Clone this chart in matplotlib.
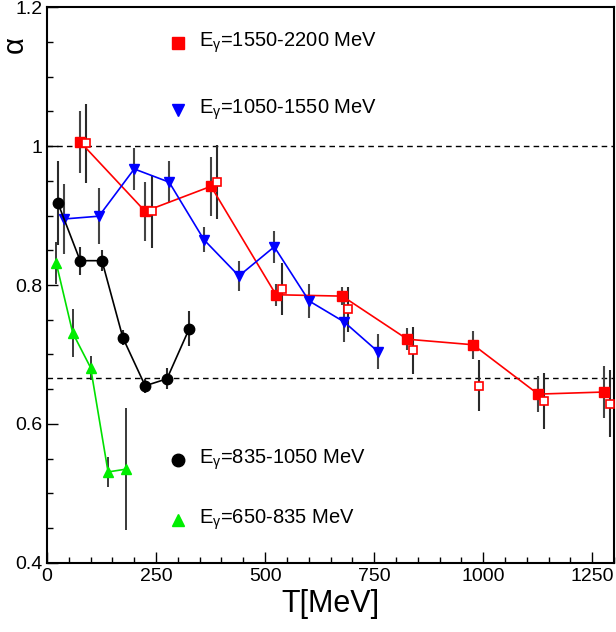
import matplotlib.pyplot as plt
from matplotlib.ticker import MultipleLocator
import numpy as np

plt.rcParams['font.family'] = ['Liberation Sans', 'DejaVu Sans']
plt.rcParams['mathtext.fontset'] = 'custom'
plt.rcParams['mathtext.rm'] = 'Liberation Sans'
plt.rcParams['mathtext.it'] = 'Liberation Sans:italic'

# E_gamma = 1550-2200 MeV, filled (connected) and open points
t_red = [76, 225, 376, 525, 677, 826, 977, 1126, 1277]
a_red = [1.006, 0.906, 0.942, 0.786, 0.784, 0.722, 0.714, 0.643, 0.646]
e_red = [0.045, 0.042, 0.042, 0.016, 0.013, 0.016, 0.020, 0.026, 0.037]
t_red_open = [89, 241, 390, 539, 690, 840, 991, 1140, 1291]
a_red_open = [1.004, 0.906, 0.948, 0.794, 0.765, 0.706, 0.655, 0.633, 0.629]
e_red_open = [0.057, 0.053, 0.053, 0.037, 0.032, 0.034, 0.037, 0.040, 0.048]

# E_gamma = 1050-1550 MeV
t_blue = [39, 119, 200, 280, 360, 440, 521, 601, 681, 759]
a_blue = [0.895, 0.899, 0.967, 0.948, 0.865, 0.813, 0.855, 0.777, 0.747, 0.704]
e_blue = [0.05, 0.04, 0.03, 0.03, 0.018, 0.021, 0.023, 0.024, 0.029, 0.025]

# E_gamma = 835-1050 MeV
t_black = [25, 76, 126, 174, 225, 275, 326]
a_black = [0.918, 0.835, 0.835, 0.724, 0.655, 0.665, 0.737]
e_black = [0.06, 0.02, 0.015, 0.011, 0.010, 0.015, 0.025]

# E_gamma = 650-835 MeV
t_green = [21, 59, 100, 140, 181]
a_green = [0.832, 0.731, 0.681, 0.531, 0.535]
e_green = [0.03, 0.035, 0.017, 0.022, 0.088]

ref_lines = [1.0, 2 / 3]

fig = plt.figure(figsize=(6.16, 6.32), dpi=100)
ax = fig.add_axes([0.0763, 0.1092, 0.9205, 0.8797])

ecol = '#2a2a2a'
ax.errorbar(t_red_open, a_red_open, yerr=e_red_open, fmt='none', ecolor=ecol, elinewidth=1.5, zorder=2)
ax.errorbar(t_red, a_red, yerr=e_red, fmt='none', ecolor='#444444', elinewidth=1.5, zorder=2)
ax.errorbar(t_blue, a_blue, yerr=e_blue, fmt='none', ecolor='#444444', elinewidth=1.5, zorder=2)
ax.errorbar(t_black, a_black, yerr=e_black, fmt='none', ecolor=ecol, elinewidth=1.5, zorder=2)
ax.errorbar(t_green, a_green, yerr=e_green, fmt='none', ecolor=ecol, elinewidth=1.3, zorder=2)

ax.plot(t_red, a_red, color='red', lw=1.2, marker='s', ms=7.5, mfc='red', mec='red', zorder=4)
ax.plot(t_red_open, a_red_open, ls='none', marker='s', ms=5.5, mfc='white', mec='red', mew=1.2, zorder=4)
ax.plot(t_blue, a_blue, color='blue', lw=1.2, marker='v', ms=7.5, mfc='blue', mec='blue', zorder=4)
ax.plot(t_black, a_black, color='black', lw=1.2, marker='o', ms=7.5, zorder=4)
ax.plot(t_green, a_green, color='#00e000', lw=1.2, marker='^', ms=7.5, mfc='#00ee00', mec='#00ee00', zorder=4)

for y in ref_lines:
    ax.axhline(y, color='black', ls=(0, (4, 3)), lw=1.0, zorder=1)

ax.set_xlim(0, 1300)
ax.set_ylim(0.4, 1.2)
ax.xaxis.set_major_locator(MultipleLocator(250))
ax.xaxis.set_minor_locator(MultipleLocator(50))
ax.yaxis.set_minor_locator(MultipleLocator(0.05))
ax.set_yticks([0.4, 0.6, 0.8, 1.0, 1.2])
ax.set_yticklabels(['0.4', '0.6', '0.8', '1', '1.2'])
ax.tick_params(which='both', direction='in', top=False, right=False, labelsize=14, width=1)
ax.tick_params(which='major', length=8)
ax.tick_params(which='minor', length=4)
for s in ax.spines.values():
    s.set_linewidth(1.5)

ax.set_xlabel('T[MeV]', fontsize=22, labelpad=3)
fig.text(0.024, 0.93, 'α', rotation=90, fontsize=21, ha='center', va='center')

# legend entries placed by hand inside the frame
entries = [
    ('s', 'red', r'E$_{\rm γ}$=1550-2200 MeV', 0.935),
    ('v', 'blue', r'E$_{\rm γ}$=1050-1550 MeV', 0.815),
    ('o', 'black', r'E$_{\rm γ}$=835-1050 MeV', 0.185),
    ('^', '#00ee00', r'E$_{\rm γ}$=650-835 MeV', 0.077),
]
for m, c, label, y in entries:
    ax.plot([0.231], [y], transform=ax.transAxes, marker=m, ms=9, color=c, ls='none', clip_on=False)
    ax.text(0.268, y, label, transform=ax.transAxes, fontsize=14.5, va='center', ha='left')

fig.savefig('out.png', dpi=100)
